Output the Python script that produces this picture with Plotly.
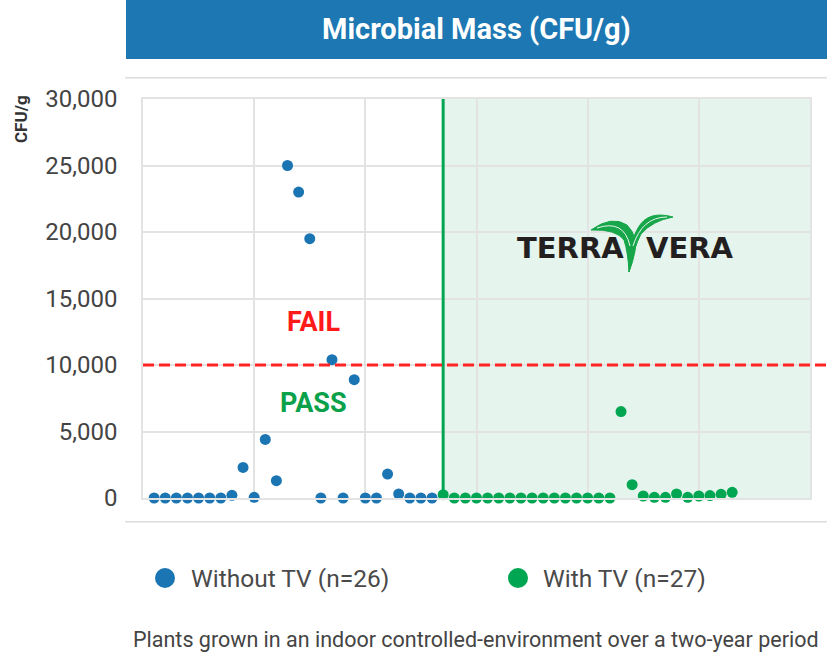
import plotly.graph_objects as go

# ---------------- data ----------------
without_tv = [0, 0, 0, 0, 0, 0, 0, 200, 2300, 50, 4400, 1300, 25000, 23000, 19500,
              0, 10400, 0, 8900, 0, 0, 1800, 300, 0, 0, 0]
with_tv = [250, 0, 0, 0, 0, 0, 0, 0, 0, 0, 0, 0, 0, 0, 0, 0,
           6500, 1000, 150, 50, 50, 300, 50, 150, 180, 280, 430]
without_x = list(range(1, len(without_tv) + 1))
with_x = list(range(len(without_tv) + 1, len(without_tv) + len(with_tv) + 1))
threshold = 10000
y_ticks = [0, 5000, 10000, 15000, 20000, 25000, 30000]
legend_labels = ["Without TV (n=26)", "With TV (n=27)"]
title_text = "Microbial Mass (CFU/g)"
footer_text = "Plants grown in an indoor controlled-environment over a two-year period"

BLUE = "#1b75b3"
GREEN = "#00a651"
RED = "#ff2424"

# layout geometry (pixels)
W, H = 836, 657
L, R, T, B = 143, 26, 99, 159
PW, PH = W - L - R, H - T - B


def px(x):
    return (x - L) / PW


def py(y):
    return (H - B - y) / PH


fig = go.Figure()
fig.add_trace(go.Scatter(x=without_x, y=without_tv, mode="markers",
                         marker=dict(color=BLUE, size=11), cliponaxis=False,
                         name=legend_labels[0], showlegend=False))
fig.add_trace(go.Scatter(x=with_x, y=with_tv, mode="markers",
                         marker=dict(color=GREEN, size=11), cliponaxis=False,
                         name=legend_labels[1], showlegend=False))

shapes = []
# green shaded region
shapes.append(dict(type="rect", xref="x", yref="y", x0=with_x[0], x1=60, y0=0, y1=30000,
                   fillcolor="#e5f4ec", line=dict(width=0), layer="below"))
# vertical green line
shapes.append(dict(type="line", xref="x", yref="y", x0=with_x[0], x1=with_x[0], y0=0, y1=30000,
                   line=dict(color=GREEN, width=3), layer="between"))
# red threshold
shapes.append(dict(type="line", xref="paper", yref="y", x0=0, x1=px(827), y0=threshold, y1=threshold,
                   line=dict(color=RED, width=3, dash="11px,5px"), layer="above"))
# title banner
shapes.append(dict(type="rect", xref="paper", yref="paper", x0=px(126), x1=px(827), y0=py(59), y1=py(-5),
                   fillcolor="#1c77b2", line=dict(width=0)))
# separators
for yy in (77.7, 521.7):
    shapes.append(dict(type="line", xref="paper", yref="paper", x0=px(125), x1=px(827), y0=py(yy), y1=py(yy),
                       line=dict(color="#dcdcdc", width=1.5)))
# legend circles
for cx, col in ((165, BLUE), (518, GREEN)):
    shapes.append(dict(type="circle", xref="paper", yref="paper",
                       x0=px(cx - 10), x1=px(cx + 10), y0=py(578 + 10), y1=py(578 - 10),
                       fillcolor=col, line=dict(width=0)))


def path(points_cmds):
    out = []
    for c in points_cmds:
        if isinstance(c, str):
            out.append(c)
        else:
            out.append(f"{px(c[0]):.5f},{py(c[1]):.5f}")
    return " ".join(out)


# logo leaves
left_leaf = path(["M", (591, 230), "Q", (612, 215), (627, 225), "Q", (638, 236), (635, 251),
                  "Q", (633, 262), (629, 272), "Q", (628, 252), (624, 240),
                  "Q", (616, 229), (591, 230), "Z"])
right_leaf = path(["M", (673, 217), "Q", (648, 210), (638, 228), "Q", (630, 240), (629, 272),
                   "Q", (634, 247), (641, 234), "Q", (652, 221), (673, 217), "Z"])
LEAF = "#17a64a"
shapes.append(dict(type="path", xref="paper", yref="paper", path=left_leaf,
                   fillcolor=LEAF, line=dict(color=LEAF, width=1)))
shapes.append(dict(type="path", xref="paper", yref="paper", path=right_leaf,
                   fillcolor=LEAF, line=dict(color=LEAF, width=1)))
shapes.append(dict(type="path", xref="paper", yref="paper",
                   path=path(["M", (597, 228), "Q", (624, 219), (630, 246)]),
                   line=dict(color="#e8f6ee", width=1)))
shapes.append(dict(type="path", xref="paper", yref="paper",
                   path=path(["M", (667, 217), "Q", (642, 217), (633, 246)]),
                   line=dict(color="#e8f6ee", width=1)))

ann = []
ann.append(dict(text=f"<b>{title_text}</b>", x=px(476), y=py(29), xref="paper", yref="paper",
                showarrow=False, font=dict(family="Roboto", size=29, color="white"),
                xanchor="center", yanchor="middle"))
ann.append(dict(text="<b>CFU/g</b>", x=px(21), y=py(119), xref="paper", yref="paper",
                showarrow=False, textangle=-90, font=dict(family="Roboto", size=17, color="#333333"),
                xanchor="center", yanchor="middle"))
ann.append(dict(text="<b>FAIL</b>", x=px(313), y=py(322), xref="paper", yref="paper",
                showarrow=False, font=dict(family="Roboto", size=27, color="#ff1a1a"),
                xanchor="center", yanchor="middle"))
ann.append(dict(text="<b>PASS</b>", x=px(313), y=py(403), xref="paper", yref="paper",
                showarrow=False, font=dict(family="Roboto", size=27, color="#0aa14a"),
                xanchor="center", yanchor="middle"))
ann.append(dict(text="<b>TERRA</b>", x=px(570), y=py(248), xref="paper", yref="paper",
                showarrow=False, font=dict(family="DejaVu Sans", size=29, color="#231f20"),
                xanchor="center", yanchor="middle"))
ann.append(dict(text="<b>VERA</b>", x=px(690), y=py(248), xref="paper", yref="paper",
                showarrow=False, font=dict(family="DejaVu Sans", size=29, color="#231f20"),
                xanchor="center", yanchor="middle"))
ann.append(dict(text=legend_labels[0], x=px(189), y=py(578), xref="paper", yref="paper",
                showarrow=False, font=dict(family="Roboto", size=24.5, color="#4a4a4a"),
                xanchor="left", yanchor="middle"))
ann.append(dict(text=legend_labels[1], x=px(541), y=py(578), xref="paper", yref="paper",
                showarrow=False, font=dict(family="Roboto", size=24.5, color="#4a4a4a"),
                xanchor="left", yanchor="middle"))
ann.append(dict(text=footer_text, x=px(476), y=py(639), xref="paper", yref="paper",
                showarrow=False, font=dict(family="Roboto", size=21.5, color="#444444"),
                xanchor="center", yanchor="middle"))

fig.update_layout(
    width=W, height=H,
    margin=dict(l=L, r=R, t=T, b=B, pad=0),
    paper_bgcolor="white", plot_bgcolor="white",
    shapes=shapes, annotations=ann, showlegend=False,
    font=dict(family="Roboto"),
)
fig.update_xaxes(range=[0, 60], dtick=10, showticklabels=False, showgrid=True,
                 gridcolor="#e3e3e3", gridwidth=1.5, zeroline=False,
                 showline=True, mirror=True, linecolor="#e3e3e3", linewidth=1.5, fixedrange=True)
fig.update_yaxes(range=[0, 30000], tickvals=y_ticks, tickformat=",", showgrid=True,
                 gridcolor="#e3e3e3", gridwidth=1.5, zeroline=False,
                 showline=True, mirror=True, linecolor="#e3e3e3", linewidth=1.5,
                 tickfont=dict(family="Roboto", size=24, color="#444444"),
                 ticks="", ticklabelstandoff=19, fixedrange=True)

fig.write_html("out.html", config={"displayModeBar": False},
               post_script="document.body.style.margin='0px';document.body.style.overflow='hidden';")
